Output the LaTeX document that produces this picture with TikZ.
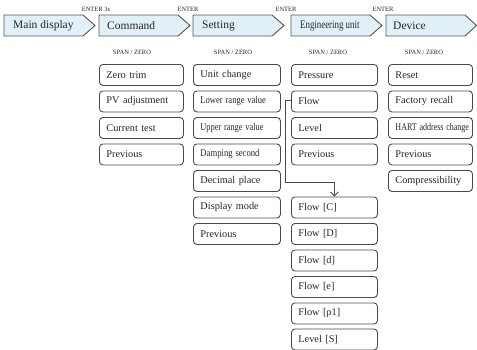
\documentclass[tikz,border=0pt]{standalone}
\usepackage{fontspec}
\setmainfont{Liberation Serif}
\usetikzlibrary{arrows.meta}
\definecolor{hdrfill}{HTML}{E2F1F8}
\definecolor{hdrline}{HTML}{555555}
\definecolor{boxline}{HTML}{4A4A4A}
\definecolor{txt}{HTML}{262626}
\tikzset{
  hdr/.style={draw=hdrline, fill=hdrfill, line width=0.9pt, line join=miter},
  hdrtext/.style={anchor=west, inner sep=0pt, text=txt, font=\fontsize{11.5}{13}\selectfont},
  lbl/.style={inner sep=0pt, text=txt, font=\fontsize{6.5}{8}\selectfont},
  sub/.style={draw=boxline, line width=0.9pt, rounded corners=3.5pt, anchor=north west,
    minimum height=21pt, inner xsep=7pt, inner ysep=0pt, align=left, text=txt,
    font=\fontsize{10.3}{12}\selectfont},
  ccol/.style={sub, text width=70pt},
  scol/.style={sub, text width=73pt},
  ecol/.style={sub, text width=72pt},
  dcol/.style={sub, text width=70pt},
  conn/.style={draw=boxline, line width=0.9pt, -{Straight Barb[length=4pt,width=8pt]}}
}
\newcommand\cond[2]{\scalebox{#1}[1]{#2}}
\begin{document}
\begin{tikzpicture}[x=1pt,y=-1pt]
\useasboundingbox (0,0) rectangle (477,349);
% header chevrons
\draw[hdr] (4,15) -- (83,15) -- (95,25.5) -- (83,36) -- (4,36) -- cycle;
\draw[hdr] (99,15) -- (178,15) -- (190,25.5) -- (178,36) -- (99,36) -- cycle;
\draw[hdr] (193,15) -- (272,15) -- (284,25.5) -- (272,36) -- (193,36) -- cycle;
\draw[hdr] (291,15) -- (370,15) -- (382,25.5) -- (370,36) -- (291,36) -- cycle;
\draw[hdr] (386,15) -- (465,15) -- (476.5,25.5) -- (465,36) -- (386,36) -- cycle;
\node[hdrtext] (hmain) at (13,25.5) {Main display};
\node[hdrtext] (hcmd) at (107,25.5) {Command};
\node[hdrtext] (hset) at (202,25.5) {Setting};
\node[hdrtext] (heng) at (300,25.5) {\cond{0.77}{Engineering unit}};
\node[hdrtext] (hdev) at (393,25.5) {Device};
% ENTER labels
\node[lbl] (en1) at (96,9) {ENTER 3s};
\node[lbl] (en2) at (188,9) {ENTER};
\node[lbl] (en3) at (286,9) {ENTER};
\node[lbl] (en4) at (383,9) {ENTER};
% SPAN / ZERO labels
\node[lbl] (sz1) at (132,52) {SPAN / ZERO};
\node[lbl] (sz2) at (233,52) {SPAN / ZERO};
\node[lbl] (sz3) at (328,52) {SPAN / ZERO};
\node[lbl] (sz4) at (424,52) {SPAN / ZERO};
% Command column
\node[ccol] (c1) at (99,64) {Zero trim};
\node[ccol] (c2) at (99,90.5) {PV adjustment};
\node[ccol] (c3) at (99,117) {Current test};
\node[ccol] (c4) at (99,143.5) {Previous};
% Setting column
\node[scol] (s1) at (193,64) {Unit change};
\node[scol] (s2) at (193,90.5) {\cond{0.83}{Lower range value}};
\node[scol] (s3) at (193,117) {\cond{0.81}{Upper range value}};
\node[scol] (s4) at (193,143.5) {\cond{0.84}{Damping second}};
\node[scol] (s5) at (193,170) {Decimal place};
\node[scol] (s6) at (193,196.5) {Display mode};
\node[scol] (s7) at (193,223) {Previous};
% Engineering unit column
\node[ecol] (e1) at (291,64) {Pressure};
\node[ecol] (e2) at (291,90.5) {Flow};
\node[ecol] (e3) at (291,117) {Level};
\node[ecol] (e4) at (291,143.5) {Previous};
\node[ecol] (e5) at (291,196.5) {Flow [C]};
\node[ecol] (e6) at (291,223) {Flow [D]};
\node[ecol] (e7) at (291,249.5) {Flow [d]};
\node[ecol] (e8) at (291,276) {Flow [e]};
\node[ecol] (e9) at (291,302.5) {Flow [ρ1]};
\node[ecol] (e10) at (291,328.5) {Level [S]};
% Device column
\node[dcol] (d1) at (388,64) {Reset};
\node[dcol] (d2) at (388,90.5) {Factory recall};
\node[dcol] (d3) at (388,117) {\cond{0.78}{HART address change}};
\node[dcol] (d4) at (388,143.5) {Previous};
\node[dcol] (d5) at (388,170) {Compressibility};
% connector
\draw[conn] ([yshift=1pt]e2.west) -- ++(-6,0) |- ([yshift=14pt]e5.north) -- (e5.north);
\end{tikzpicture}
\end{document}
